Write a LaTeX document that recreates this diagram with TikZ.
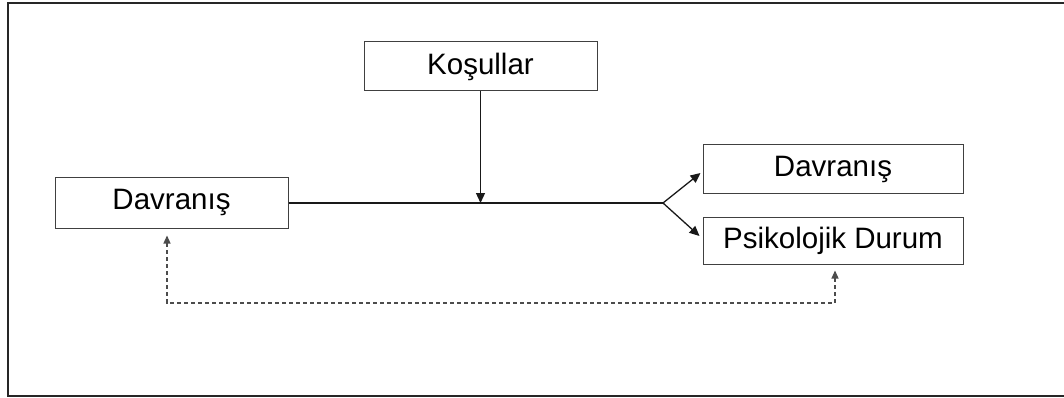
\documentclass[tikz,border=0pt]{standalone}
\usepackage{fontspec}
\setmainfont{Liberation Sans}
\usetikzlibrary{arrows.meta}
\begin{document}
\begin{tikzpicture}[x=1pt,y=-1pt,
  box/.style={draw=black!75,line width=1pt,fill=white,inner sep=0pt,
    font=\fontsize{29.5}{34}\selectfont},
  tip/.style={-{Triangle[length=10pt,width=9pt]}},
  link/.style={line width=1.3pt,black!90},
  back/.style={draw=black!70,line width=1.2pt,dash pattern=on 4pt off 3pt,
    {Triangle[length=8pt,width=7pt]}-{Triangle[length=8pt,width=7pt]}}]
  \useasboundingbox (0,0) rectangle (1064,398);
  % outer frame, open at the right
  \draw[line width=2pt,black!85] (1070,3) -- (8,3) -- (8,396) -- (1070,396);

  % boxes
  \node[box,minimum width=233pt,minimum height=49pt] (kos) at (480.5,66.5) {Koşullar};
  \node[box,minimum width=233pt,minimum height=51pt] (dav1) at (171.5,202.5) {Davranış};
  \node[box,minimum width=260pt,minimum height=48pt] (dav2) at (833,169) {Davranış};
  \node[box,minimum width=260pt,minimum height=47pt] (psi) at (833,240.5) {Psikolojik Durum};

  % main line and its split
  \coordinate (split) at (663,203);
  \coordinate (low) at (0,303);
  \draw[link] (dav1.east |- split) -- (split);
  \draw[link,tip] (kos.south) -- (kos.south |- split);
  \draw[link,tip] (split) -- ([xshift=-2pt,yshift=-4pt]dav2.west);
  \draw[link,tip] (split) -- ([xshift=-3pt,yshift=4.5pt]psi.west);

  % feedback path
  \draw[back,shorten <=7pt,shorten >=6pt]
    ([xshift=-4.5pt]dav1.south) -- ([xshift=-4.5pt]dav1.south |- low) -| ([xshift=2pt]psi.south);
\end{tikzpicture}
\end{document}
